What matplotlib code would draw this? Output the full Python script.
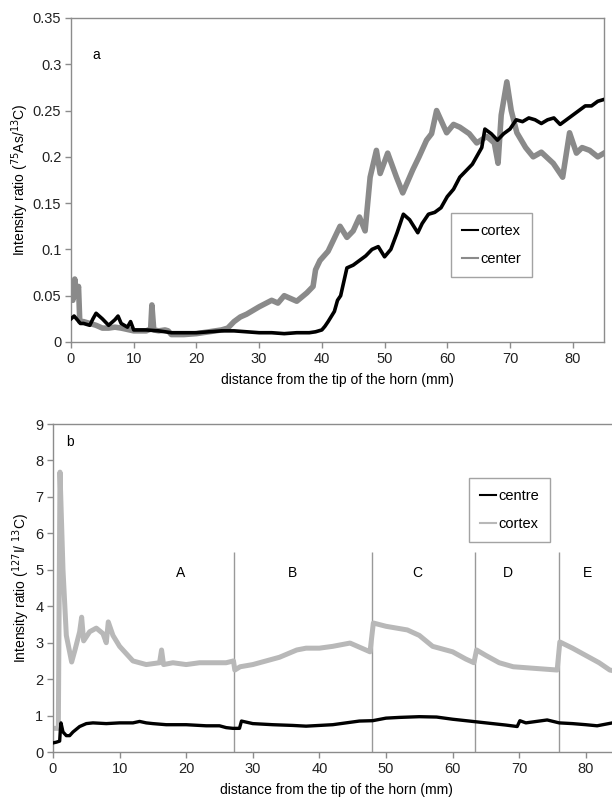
import matplotlib.pyplot as plt

plt.rcParams['font.family'] = ['Liberation Sans', 'DejaVu Sans']

# -----------------------------
# Panel a: As intensity ratio
# -----------------------------
a_cortex_x = [0, 0.5, 1, 1.5, 2, 3, 3.5, 4, 5, 6, 7, 7.5, 8, 9, 9.5, 10, 12, 14,
              16, 18, 20, 22, 24, 26, 28, 30, 32, 34, 36, 38, 39, 40, 40.5, 41,
              42, 42.5, 43, 43.5, 44, 45, 46, 47, 48, 49, 50, 51, 52, 53, 54,
              55.3, 56, 57, 58, 59, 60, 61, 62, 63, 64, 65, 65.5, 66, 67, 68,
              69, 70, 71, 72, 73, 74, 75, 76, 77, 78, 79, 80, 81, 82, 83, 84, 85]
a_cortex_y = [0.025, 0.028, 0.024, 0.02, 0.02, 0.018, 0.025, 0.031, 0.025, 0.018,
              0.024, 0.028, 0.02, 0.016, 0.022, 0.013, 0.013, 0.012, 0.01, 0.01,
              0.01, 0.011, 0.012, 0.012, 0.011, 0.01, 0.01, 0.009, 0.01, 0.01,
              0.011, 0.013, 0.017, 0.022, 0.033, 0.045, 0.05, 0.065, 0.08, 0.083,
              0.088, 0.093, 0.1, 0.103, 0.092, 0.1, 0.118, 0.138, 0.132, 0.118,
              0.128, 0.138, 0.14, 0.145, 0.157, 0.165, 0.178, 0.185, 0.192, 0.204,
              0.21, 0.23, 0.225, 0.218, 0.225, 0.23, 0.24, 0.238, 0.242, 0.24,
              0.236, 0.24, 0.242, 0.235, 0.24, 0.245, 0.25, 0.255, 0.255, 0.26, 0.262]

a_center_x = [0, 0.3, 0.6, 0.9, 1.2, 1.4, 2, 3, 4, 5, 6, 7, 8, 10, 12, 12.7, 12.9,
              13.2, 14, 15, 15.5, 16, 18, 20, 22, 24, 25, 26, 27, 28, 30, 32,
              33, 34, 35, 36, 37.6, 38.6, 39, 39.7, 41, 42.9, 44, 45, 46, 46.9,
              47.7, 48.7, 49.3, 50.5, 51.9, 52.9, 54.5, 55.5, 56.7, 57.5, 58.3,
              59.9, 61, 62, 63.5, 64.7, 66.3, 67.5, 68.1, 68.6, 69.5, 70.2, 71.1,
              72.5, 73.7, 75, 76.9, 78.4, 79.5, 80.6, 81.5, 82.7, 84, 85]
a_center_y = [0.055, 0.045, 0.068, 0.05, 0.06, 0.022, 0.022, 0.02, 0.018, 0.015,
              0.015, 0.016, 0.015, 0.012, 0.012, 0.014, 0.04, 0.013, 0.012, 0.013,
              0.012, 0.008, 0.008, 0.009, 0.011, 0.013, 0.015, 0.022, 0.027, 0.03,
              0.038, 0.045, 0.042, 0.05, 0.047, 0.044, 0.053, 0.06, 0.078, 0.088,
              0.098, 0.125, 0.113, 0.12, 0.135, 0.12, 0.178, 0.207, 0.182, 0.204,
              0.178, 0.161, 0.186, 0.2, 0.218, 0.225, 0.25, 0.226, 0.235, 0.232,
              0.225, 0.215, 0.222, 0.215, 0.193, 0.245, 0.281, 0.25, 0.226, 0.21,
              0.2, 0.205, 0.193, 0.178, 0.226, 0.204, 0.21, 0.207, 0.2, 0.204]

# -----------------------------
# Panel b: I intensity ratio
# -----------------------------
b_centre_x = [0, 0.5, 1, 1.1, 1.2, 1.5, 2, 2.5, 3, 4, 5, 6, 8, 10, 12, 13, 14,
              15, 17, 20, 23, 25, 26, 27, 28, 28.3, 30, 33, 36, 38, 40, 42, 44,
              46, 48, 50, 52, 55, 57.6, 60, 63, 66, 68, 69.7, 70.1, 71, 73, 74.2,
              76, 78, 80, 81.7, 84, 85]
b_centre_y = [0.25, 0.27, 0.3, 0.6, 0.8, 0.55, 0.45, 0.45, 0.55, 0.7, 0.78, 0.8,
              0.78, 0.8, 0.8, 0.84, 0.8, 0.78, 0.75, 0.75, 0.72, 0.72, 0.67, 0.65,
              0.65, 0.85, 0.78, 0.75, 0.73, 0.71, 0.73, 0.75, 0.8, 0.85, 0.86,
              0.93, 0.95, 0.97, 0.96, 0.9, 0.84, 0.78, 0.74, 0.7, 0.86, 0.8, 0.85,
              0.88, 0.8, 0.78, 0.75, 0.72, 0.8, 0.8]

b_cortex_x = [0, 0.8, 1.05, 1.5, 2, 2.8, 3.3, 4, 4.3, 4.6, 5.5, 6.5, 7.5, 8, 8.3,
              9, 10, 11, 12, 14, 16, 16.3, 16.6, 18, 20, 22, 24, 26, 27.1, 27.3,
              28.1, 30, 32, 34, 36.6, 38, 40, 42, 44.6, 47.6, 48.1, 50, 53.2, 55,
              57, 60, 62, 63.2, 63.6, 65, 67, 69.1, 72, 75.7, 76.1, 78, 80, 82,
              83.6, 85]
b_cortex_y = [0.65, 0.65, 7.68, 5.0, 3.2, 2.47, 2.8, 3.3, 3.7, 3.05, 3.3, 3.4, 3.25,
              3.0, 3.57, 3.2, 2.9, 2.7, 2.5, 2.4, 2.45, 2.8, 2.4, 2.45, 2.4, 2.45,
              2.45, 2.45, 2.5, 2.25, 2.34, 2.4, 2.5, 2.6, 2.8, 2.85, 2.85, 2.9, 2.99,
              2.75, 3.54, 3.45, 3.35, 3.2, 2.9, 2.75, 2.55, 2.45, 2.8, 2.65, 2.45,
              2.34, 2.3, 2.25, 3.02, 2.85, 2.65, 2.45, 2.25, 2.2]

b_zone_edges = [27.2, 47.9, 63.4, 76.0]
b_zone_labels = ['A', 'B', 'C', 'D', 'E']
b_zone_label_x = [19.1, 35.9, 54.7, 68.3, 80.2]

a_yticks = [0, 0.05, 0.1, 0.15, 0.2, 0.25, 0.3, 0.35]
a_yticklabels = ['0', '0.05', '0.1', '0.15', '0.2', '0.25', '0.3', '0.35']
b_yticks = [0, 1, 2, 3, 4, 5, 6, 7, 8, 9]
xticks = [0, 10, 20, 30, 40, 50, 60, 70, 80]

FRAME = '#8c8c8c'
DARK_GREY = '#8a8a8a'
LIGHT_GREY = '#b8b8b8'


def style_axes(ax):
    for s in ax.spines.values():
        s.set_color(FRAME)
        s.set_linewidth(1.0)
    ax.tick_params(direction='out', length=4, width=1, color=FRAME,
                   labelsize=10.5, labelcolor='#222222', pad=3)


def add_legend(ax, anchor):
    leg = ax.legend(loc='lower left', bbox_to_anchor=anchor, fontsize=10.5,
                    frameon=True, fancybox=False, handlelength=1.1,
                    handletextpad=0.15, labelspacing=0.95, borderpad=0.75,
                    borderaxespad=0)
    leg.get_frame().set_edgecolor(FRAME)
    leg.get_frame().set_linewidth(1.0)
    for ln in leg.get_lines():
        ln.set_linewidth(1.5)
    return leg


fig = plt.figure(figsize=(6.12, 8.02), dpi=100)

# --- panel a ---
ax1 = fig.add_axes([0.116, 0.5736, 0.871, 0.404])
ax1.plot(a_cortex_x, a_cortex_y, color='black', lw=2.6, label='cortex', zorder=3)
ax1.plot(a_center_x, a_center_y, color=DARK_GREY, lw=4.0, label='center', zorder=2)
ax1.set_xlim(0, 85)
ax1.set_ylim(0, 0.35)
ax1.set_xticks(xticks)
ax1.set_yticks(a_yticks)
ax1.set_yticklabels(a_yticklabels)
ax1.set_xlabel('distance from the tip of the horn (mm)', fontsize=10, labelpad=5)
ax1.set_ylabel(r'Intensity ratio ($^{75}$As/$^{13}$C)', fontsize=10, labelpad=1)
ax1.text(4.1, 0.31, 'a', fontsize=10, va='center', ha='center')
style_axes(ax1)
add_legend(ax1, (0.713, 0.2))

# --- panel b ---
ax2 = fig.add_axes([0.0866, 0.0623, 0.925, 0.409])
ax2.plot(b_centre_x, b_centre_y, color='black', lw=2.4, label='centre', zorder=3)
ax2.plot(b_cortex_x, b_cortex_y, color=LIGHT_GREY, lw=3.6, label='cortex', zorder=2)
ax2.vlines(b_zone_edges, 0, 5.5, color='#999999', lw=1.0, zorder=1)
for lx, lab in zip(b_zone_label_x, b_zone_labels):
    ax2.text(lx, 4.9, lab, fontsize=10, ha='center', va='center')
ax2.set_xlim(0, 85)
ax2.set_ylim(0, 9)
ax2.set_xticks(xticks)
ax2.set_yticks(b_yticks)
ax2.set_xlabel('distance from the tip of the horn (mm)', fontsize=10, labelpad=5)
ax2.set_ylabel(r'Intensity ratio ($^{127}$I/ $^{13}$C)', fontsize=10, labelpad=2)
ax2.text(2.5, 8.5, 'b', fontsize=10, va='center', ha='center')
style_axes(ax2)
add_legend(ax2, (0.735, 0.64))

fig.savefig('out.png', dpi=100)
